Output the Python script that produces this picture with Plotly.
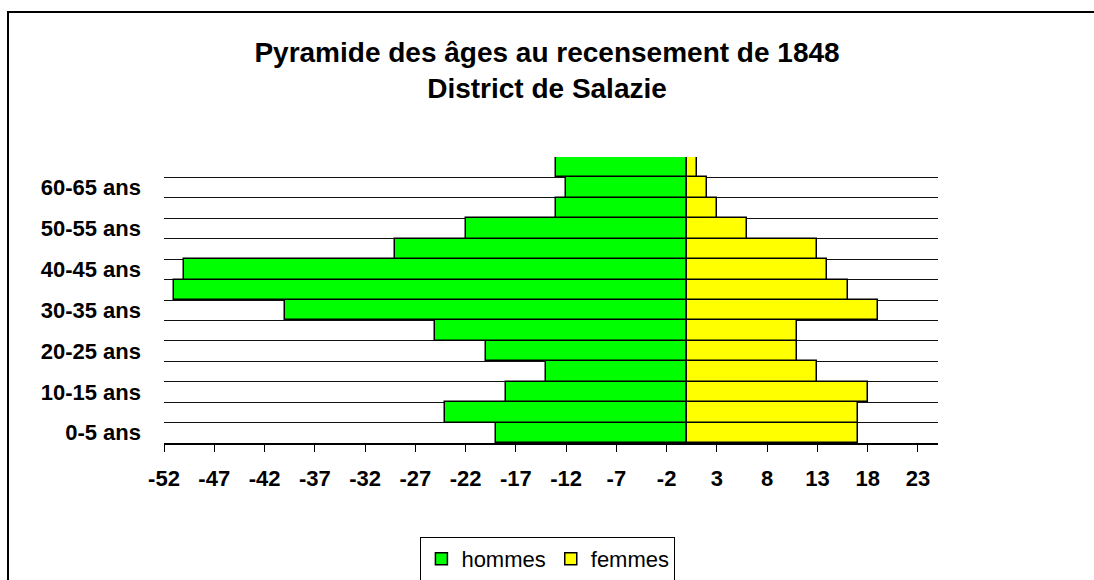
import plotly.graph_objects as go

# Age groups, bottom to top
age_groups = ["0-5 ans", "5-10 ans", "10-15 ans", "15-20 ans", "20-25 ans",
              "25-30 ans", "30-35 ans", "35-40 ans", "40-45 ans", "45-50 ans",
              "50-55 ans", "55-60 ans", "60-65 ans", "65-70 ans"]
hommes = [19, 24, 18, 14, 20, 25, 40, 51, 50, 29, 22, 13, 12, 13]
femmes = [17, 17, 18, 13, 11, 11, 19, 16, 14, 13, 6, 3, 2, 1]

# Horizontal scale: ticks every 5 starting at -52
x_ticks = [-52, -47, -42, -37, -32, -27, -22, -17, -12, -7, -2, 3, 8, 13, 18, 23]
x_tick_labels = [str(v) for v in x_ticks]
x_min, x_max = -52, 25

positions = list(range(len(age_groups)))
label_positions = positions[::2]
label_text = [age_groups[i] for i in label_positions]
boundaries = [p - 0.5 for p in positions] + [positions[-1] + 0.5]

FONT = "Liberation Sans, Arial, sans-serif"

fig = go.Figure()
fig.add_trace(go.Bar(
    y=positions, x=[-v for v in hommes], orientation="h", name="hommes",
    marker=dict(color="#00FF00", line=dict(color="black", width=1.5)),
))
fig.add_trace(go.Bar(
    y=positions, x=femmes, orientation="h", name="femmes",
    marker=dict(color="#FFFF00", line=dict(color="black", width=1.5)),
))

W, H = 1094, 580
ml, mr, mt, mb = 164, 156, 157, 137
pw, ph = W - ml - mr, H - mt - mb

fig.update_layout(
    width=W, height=H,
    margin=dict(l=ml, r=mr, t=mt, b=mb, pad=0, autoexpand=False),
    paper_bgcolor="white", plot_bgcolor="white",
    barmode="overlay", bargap=0,
    title=dict(
        text="Pyramide des âges au recensement de 1848<br>District de Salazie",
        x=0.5, xref="container", xanchor="center",
        y=1 - 62 / H, yref="container", yanchor="top",
        font=dict(family=FONT, size=28, color="black", weight="bold"),
    ),
    xaxis=dict(
        range=[x_min, x_max],
        tickmode="array", tickvals=x_ticks, ticktext=x_tick_labels,
        ticks="outside", ticklen=7, tickcolor="black",
        showline=True, linecolor="black", linewidth=1.5,
        showgrid=False, zeroline=False, ticklabelstandoff=8,
        tickfont=dict(family=FONT, size=22, color="black", weight="bold"),
        fixedrange=True,
    ),
    yaxis=dict(
        range=[-0.5, len(age_groups) - 0.5],
        tickmode="array", tickvals=label_positions, ticktext=label_text,
        ticks="", showline=False, showgrid=False, zeroline=False,
        ticklabelstandoff=22,
        tickfont=dict(family=FONT, size=22, color="black", weight="bold"),
        minor=dict(tickvals=boundaries, showgrid=True, gridcolor="#111",
                   gridwidth=1, ticks=""),
        fixedrange=True,
    ),
    legend=dict(
        orientation="h", x=0.5 - 0.004, xanchor="center",
        y=(H - mb - 537) / ph, yanchor="top",
        bordercolor="black", borderwidth=1, bgcolor="white",
        font=dict(family=FONT, size=22, color="black"),
        itemwidth=30, traceorder="normal",
    ),
    shapes=[dict(
        type="rect", xref="paper", yref="paper",
        x0=(8 - ml) / pw, x1=(W + 20 - ml) / pw,
        y0=-(mb + 20) / ph, y1=(H - mb - 12) / ph,
        line=dict(color="black", width=2), fillcolor="rgba(0,0,0,0)",
        layer="below",
    )],
    showlegend=True,
)

fig.write_html("out.html", config={"displayModeBar": False})
